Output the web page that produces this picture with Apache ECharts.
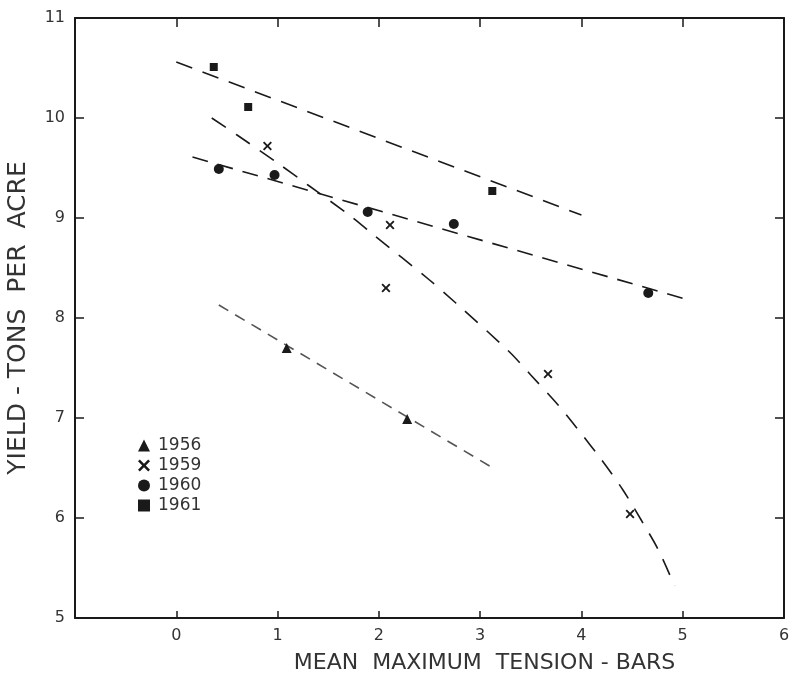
<!DOCTYPE html>
<html>
<head>
<meta charset="utf-8">
<script src="https://cdn.jsdelivr.net/npm/echarts@6/dist/echarts.min.js"></script>
<style>
  html, body { margin: 0; padding: 0; background: #fff; }
  #chart { width: 796px; height: 685px; }
</style>
</head>
<body>
<div id="chart"></div>
<script>
var x1956 = [1.09, 2.28];
var y1956 = [7.70, 6.99];
var x1959 = [0.90, 2.11, 2.07, 3.67, 4.48];
var y1959 = [9.72, 8.93, 8.30, 7.44, 6.04];
var x1960 = [0.42, 0.97, 1.89, 2.74, 4.66];
var y1960 = [9.49, 9.43, 9.06, 8.94, 8.25];
var x1961 = [0.37, 0.71, 3.12];
var y1961 = [10.51, 10.11, 9.27];

// fitted dashed lines (end points / traced curve)
var fit1956x = [0.42, 3.16];
var fit1956y = [8.13, 6.48];
var fit1959x = [0.35, 0.6, 1.0, 1.3, 1.72, 1.95, 2.5, 2.76, 3.29, 3.5, 3.77, 3.97, 4.2, 4.41, 4.59, 4.76, 4.92];
var fit1959y = [10.0, 9.83, 9.55, 9.33, 9.02, 8.83, 8.38, 8.15, 7.66, 7.43, 7.13, 6.88, 6.58, 6.28, 5.98, 5.68, 5.32];
var fit1960x = [0.16, 5.06];
var fit1960y = [9.61, 8.18];
var fit1961x = [0.0, 4.0];
var fit1961y = [10.56, 9.03];

var xTicks = [-1, 0, 1, 2, 3, 4, 5, 6];
var yTicks = [5, 6, 7, 8, 9, 10, 11];

function pairs(xs, ys) {
  return xs.map(function (x, i) { return [x, ys[i]]; });
}

var FONT = "DejaVu Sans";
var INK = "#1a1a1a";
var crossPath = "path://M1.5,0 L5,3.5 L8.5,0 L10,1.5 L6.5,5 L10,8.5 L8.5,10 L5,6.5 L1.5,10 L0,8.5 L3.5,5 L0,1.5 Z";

var chartDom = document.getElementById("chart");
var myChart = echarts.init(chartDom);

var axisLine = { show: true, onZero: false, lineStyle: { color: INK, width: 2 } };
var tickStyle = { show: true, inside: true, length: 9, lineStyle: { color: INK, width: 1.5 } };

var option = {
  animation: false,
  backgroundColor: "#fff",
  grid: { left: 75, right: 12, top: 18, bottom: 67, outerBoundsMode: "none", containLabel: false },
  legend: {
    orient: "vertical",
    left: 133,
    top: 432,
    itemWidth: 12,
    itemHeight: 12,
    itemGap: 3,
    data: ["1956", "1959", "1960", "1961"],
    textStyle: { fontFamily: FONT, fontSize: 17, color: "#333", padding: [0, 0, 0, 3] }
  },
  xAxis: [
    {
      type: "value",
      min: xTicks[0],
      max: xTicks[xTicks.length - 1],
      interval: 1,
      position: "bottom",
      name: "MEAN  MAXIMUM  TENSION - BARS",
      nameLocation: "middle",
      nameGap: 34,
      nameTextStyle: { fontFamily: FONT, fontSize: 22, color: "#333", padding: [0, 0, 0, 110] },
      axisLine: axisLine,
      axisTick: { show: true, inside: true, length: 7, lineStyle: { color: INK, width: 1.5 } },
      axisLabel: {
        fontFamily: FONT, fontSize: 16, color: "#333", margin: 10,
        formatter: function (v) { return v < 0 ? "" : String(v); }
      },
      splitLine: { show: false }
    },
    {
      type: "value",
      min: xTicks[0],
      max: xTicks[xTicks.length - 1],
      interval: 1,
      position: "top",
      axisLine: axisLine,
      axisTick: tickStyle,
      axisLabel: { show: false },
      splitLine: { show: false }
    }
  ],
  yAxis: [
    {
      type: "value",
      min: yTicks[0],
      max: yTicks[yTicks.length - 1],
      interval: 1,
      position: "left",
      name: "YIELD - TONS  PER  ACRE",
      nameLocation: "middle",
      nameGap: 44,
      nameTextStyle: { fontFamily: FONT, fontSize: 25, color: "#333" },
      axisLine: axisLine,
      axisTick: tickStyle,
      axisLabel: { fontFamily: FONT, fontSize: 16, color: "#333", margin: 10 },
      splitLine: { show: false }
    },
    {
      type: "value",
      min: yTicks[0],
      max: yTicks[yTicks.length - 1],
      interval: 1,
      position: "right",
      axisLine: axisLine,
      axisTick: tickStyle,
      axisLabel: { show: false },
      splitLine: { show: false }
    }
  ],
  series: [
    {
      name: "fit1961", type: "line", data: pairs(fit1961x, fit1961y), symbol: "none",
      lineStyle: { color: INK, width: 1.6, type: [17, 11] }, z: 1
    },
    {
      name: "fit1960", type: "line", data: pairs(fit1960x, fit1960y), symbol: "none",
      lineStyle: { color: INK, width: 1.6, type: [16, 10] }, z: 1
    },
    {
      name: "fit1959", type: "line", data: pairs(fit1959x, fit1959y), symbol: "none", smooth: 0.3,
      lineStyle: { color: INK, width: 1.6, type: [17, 12] }, z: 1
    },
    {
      name: "fit1956", type: "line", data: pairs(fit1956x, fit1956y), symbol: "none",
      lineStyle: { color: "#555", width: 1.6, type: [11, 8] }, z: 1
    },
    {
      name: "1956", type: "scatter", data: pairs(x1956, y1956),
      symbol: "triangle", symbolSize: 10, itemStyle: { color: INK, opacity: 1 }, z: 3
    },
    {
      name: "1959", type: "scatter", data: pairs(x1959, y1959),
      symbol: crossPath, symbolSize: 9, itemStyle: { color: INK, opacity: 1 }, z: 3
    },
    {
      name: "1960", type: "scatter", data: pairs(x1960, y1960),
      symbol: "circle", symbolSize: 10, itemStyle: { color: INK, opacity: 1 }, z: 3
    },
    {
      name: "1961", type: "scatter", data: pairs(x1961, y1961),
      symbol: "rect", symbolSize: 8, itemStyle: { color: INK, opacity: 1 }, z: 3
    }
  ]
};

myChart.setOption(option);
</script>
</body>
</html>
